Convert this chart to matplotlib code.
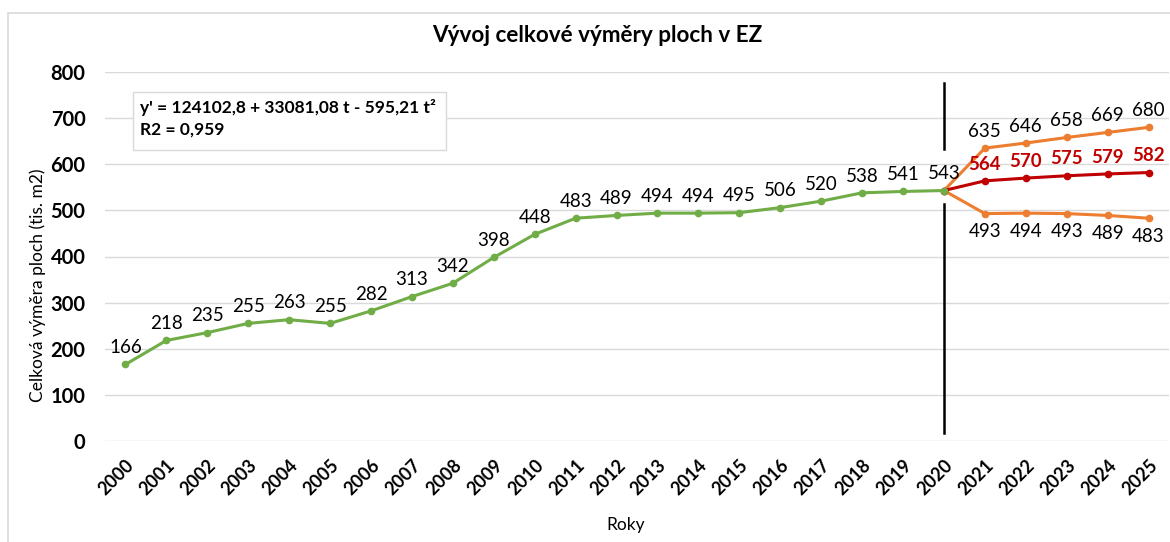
import matplotlib
matplotlib.use("Agg")
import matplotlib.pyplot as plt
from matplotlib.patches import Rectangle
from matplotlib.transforms import ScaledTranslation

plt.rcParams['font.family'] = ['Lato', 'DejaVu Sans']

# data
roky = [str(r) for r in range(2000, 2026)]
skutecnost = [166, 218, 235, 255, 263, 255, 282, 313, 342, 398, 448, 483, 489,
              494, 494, 495, 506, 520, 538, 541, 543]
horni = [543, 635, 646, 658, 669, 680]
stred = [543, 564, 570, 575, 579, 582]
dolni = [543, 493, 494, 493, 489, 483]
rovnice = "y' = 124102,8 + 33081,08 t - 595,21 t²"
r2 = "R2 = 0,959"

zelena = '#70AD47'
oranzova = '#ED7D31'
cervena = '#C00000'

W, H = 1170, 542
fig = plt.figure(figsize=(W / 100, H / 100), dpi=100)
ax = fig.add_axes([105 / W, 1 - 441 / H, (1169 - 105) / W, (441 - 72) / H])

x_hist = list(range(len(skutecnost)))
x_prog = list(range(len(skutecnost) - 1, len(roky)))

ax.plot(x_prog, horni, color=oranzova, lw=2.2, marker='o', ms=4.5, zorder=3)
ax.plot(x_prog, dolni, color=oranzova, lw=2.2, marker='o', ms=4.5, zorder=3)
ax.plot(x_prog, stred, color=cervena, lw=2.2, marker='o', ms=4.5, zorder=4)
ax.plot(x_hist, skutecnost, color=zelena, lw=2.2, marker='o', ms=4.5, zorder=5)

# svisla cara (hranice prognozy)
ax.plot([20, 20], [514, 17], color='black', lw=1.8, zorder=2)
ax.plot([20, 20], [776, 633], color='black', lw=1.8, zorder=2)

# popisky hodnot
fs = 13.5
for x, v in zip(x_hist, skutecnost):
    ax.annotate(str(v), (x, v), xytext=(0, 6), textcoords='offset points',
                ha='center', va='bottom', fontsize=fs, color='black')
for x, v in zip(x_prog[1:], horni[1:]):
    ax.annotate(str(v), (x, v), xytext=(0, 6), textcoords='offset points',
                ha='center', va='bottom', fontsize=fs, color='black')
for x, v in zip(x_prog[1:], stred[1:]):
    ax.annotate(str(v), (x, v), xytext=(0, 6), textcoords='offset points',
                ha='center', va='bottom', fontsize=fs, color=cervena,
                fontweight='bold')
for x, v in zip(x_prog[1:], dolni[1:]):
    ax.annotate(str(v), (x, v), xytext=(0, -7), textcoords='offset points',
                ha='center', va='top', fontsize=fs, color='black')

ax.set_xlim(-0.5, len(roky) - 0.5)
ax.set_ylim(0, 800)
ax.set_yticks(range(0, 801, 100))
ax.set_xticks(range(len(roky)))
ax.set_xticklabels(roky, rotation=45, ha='right', rotation_mode='anchor',
                   fontsize=13, fontweight='bold')
posun = ScaledTranslation(-0.11, 0, fig.dpi_scale_trans)
for lab in ax.get_xticklabels():
    lab.set_transform(lab.get_transform() + posun)
for lab in ax.get_yticklabels():
    lab.set_fontsize(14.5)
    lab.set_fontweight('bold')
ax.tick_params(axis='both', length=0)
ax.tick_params(axis='y', pad=14)
ax.tick_params(axis='x', pad=11)
ax.grid(axis='y', color='#D9D9D9', lw=1)
ax.set_axisbelow(True)
for s in ax.spines.values():
    s.set_visible(False)

# texty mimo osy
fig.text(597 / W, 1 - 36 / H, 'Vývoj celkové výměry ploch v EZ', ha='center',
         va='center', fontsize=16.2, fontweight='bold')
fig.text(38 / W, 1 - 285 / H, 'Celková výměra ploch (tis. m2)', rotation=90,
         ha='center', va='center', fontsize=12.5)
fig.text(626 / W, 1 - 525 / H, 'Roky', ha='center', va='center', fontsize=12.5)

# ramecek s rovnici
fig.patches.append(Rectangle((133 / W, 1 - 150 / H), (446 - 133) / W, 58 / H,
                             transform=fig.transFigure, facecolor='white',
                             edgecolor='#D9D9D9', lw=1, zorder=6))
fig.text(140 / W, 1 - 107 / H, rovnice, ha='left', va='center', fontsize=12.5,
         fontweight='bold', zorder=7)
fig.text(140 / W, 1 - 130 / H, r2, ha='left', va='center', fontsize=12.5,
         fontweight='bold', zorder=7)

# ramecek grafu
fig.patches.append(Rectangle((8 / W, -0.01), 1.0, 1 - 13 / H + 0.01,
                             transform=fig.transFigure, facecolor='none',
                             edgecolor='#D9D9D9', lw=1.2, zorder=0))

fig.savefig('out.png', dpi=100)
